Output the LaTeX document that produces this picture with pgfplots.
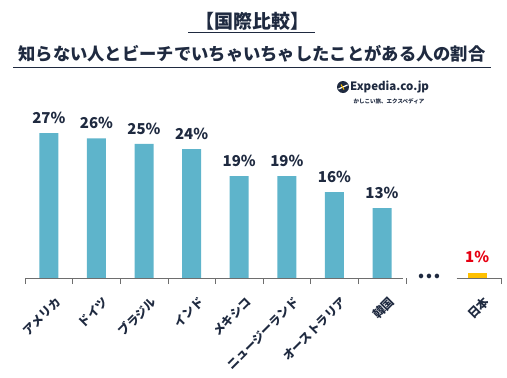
\documentclass[border=0pt]{standalone}
\usepackage{pgfplots}
\pgfplotsset{compat=1.18}
\usepackage{fontspec}
\setmainfont{Noto Sans CJK JP}
\definecolor{navy}{RGB}{31,42,64}
\definecolor{barblue}{RGB}{94,180,203}
\definecolor{gold}{RGB}{255,192,0}
\definecolor{jpred}{RGB}{230,0,18}
\definecolor{axgray}{RGB}{110,110,110}
\begin{document}
\begin{tikzpicture}[x=1pt,y=1pt]
\useasboundingbox (0,0) rectangle (507,-378);
% titles
\node[font=\fontsize{19}{19}\selectfont\bfseries, text=navy] at (252,-21) {【国際比較】};
\draw[navy, line width=0.9pt] (188,-32) -- (315,-32);
\node[font=\fontsize{17.3}{17.3}\selectfont\bfseries, text=navy] at (252,-54) {知らない人とビーチでいちゃいちゃしたことがある人の割合};
\draw[navy, line width=0.9pt] (13,-67) -- (491,-67);
% logo
\fill[navy] (343,-87) circle (6);
\draw[white, line width=1.2pt] (338.5,-89) -- (347.5,-85);
\draw[gold, line width=1pt] (341,-84.5) -- (344,-89.5);
\node[anchor=west, font=\fontsize{11.5}{11.5}\selectfont\bfseries, text=navy, inner sep=0] at (350,-87) {Expedia.co.jp};
\node[font=\fontsize{5.5}{5.5}\selectfont\bfseries, text=navy, inner sep=0] at (389,-101) {かしこい旅、エクスペディア};

\begin{axis}[
  at={(48.8pt,-278pt)}, anchor=origin,
  scale only axis, width=476pt, height=161pt,
  xmin=-0.5, xmax=9.5, ymin=0, ymax=30,
  axis line style={draw=none},
  ytick=\empty,
  xtick={-0.5,0.5,1.5,2.5,3.5,4.5,5.5,6.5,7.5,9.5},
  xticklabels={},
  xtick pos=bottom,
  tick align=outside,
  major tick length=6pt,
  tick style={axgray, line width=0.6pt},
  extra x ticks={0,1,2,3,4,5,6,7,9},
  extra x tick labels={アメリカ,ドイツ,ブラジル,インド,メキシコ,ニュージーランド,オーストラリア,韓国,日本},
  extra x tick style={major tick length=0pt, tick label style={xshift=6pt, yshift=-16pt, rotate=45, anchor=north east, font=\fontsize{12}{12}\selectfont\bfseries, text=navy, inner sep=1pt}},
  ybar, bar width=19pt,
  /pgf/number format/assume math mode=true,
  nodes near coords={\pgfmathprintnumber{\pgfplotspointmeta}\%},
  every node near coord/.append style={font=\fontsize{15}{15}\selectfont\bfseries, text=navy, yshift=6pt},
  clip=false,
]
\addplot[draw=none, fill=barblue, bar shift=0pt] coordinates {(0,27) (1,26) (2,25) (3,24) (4,19) (5,19) (6,16) (7,13)};
\addplot[draw=none, fill=gold, bar shift=0pt, every node near coord/.append style={text=jpred}] coordinates {(9,1)};
\draw[axgray, line width=0.8pt] (axis cs:-0.5,0) -- (axis cs:7.45,0);
\draw[axgray, line width=0.8pt] (axis cs:8.57,0) -- (axis cs:9.5,0);
\node[font=\fontsize{21}{21}\selectfont\bfseries, text=navy] at (axis cs:8,0.3) {…};
\end{axis}
\end{tikzpicture}
\end{document}
